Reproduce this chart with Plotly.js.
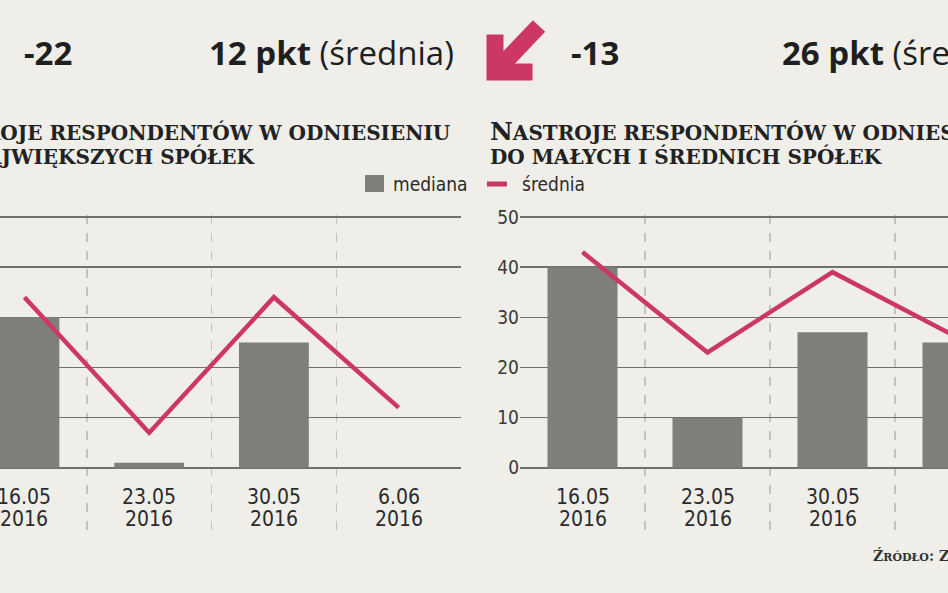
<!DOCTYPE html>
<html>
<head>
<meta charset="utf-8">
<script src="https://cdn.plot.ly/plotly-3.0.1.min.js"></script>
<style>
html,body{margin:0;padding:0;background:#efeee9;}
#chart{width:948px;height:593px;}
</style>
</head>
<body>
<div id="chart"></div>
<script>
// ---- data ----
var categories = ['16.05', '23.05', '30.05', '6.06'];
var yearLabel = '2016';
var bigMediana = [30, 1, 25, 0];        // największe spółki – mediana
var bigSrednia = [34, 7, 34, 12];       // największe spółki – średnia
var smallMediana = [40, 10, 27, 25];    // małe i średnie spółki – mediana
var smallSrednia = [43, 23, 39, 26];    // małe i średnie spółki – średnia
var yTicks = [0, 10, 20, 30, 40, 50];
var legendNames = ['mediana', 'średnia'];

// ---- styles ----
var W = 948, H = 593;
function px(x){ return x / W; }
function py(y){ return 1 - y / H; }
var BG = '#efeee9', BAR = '#7f7f79', LINE = '#cc3863', GRID = '#6f6f6b', DASH = '#c4c4bf', TXT = '#2b2b2b';
var condFont = '"Liberation Sans Narrow", "DejaVu Sans Condensed", sans-serif';
var slab = '"DejaVu Serif", serif';

var traces = [
  {type:'bar', x:categories, y:bigMediana, xaxis:'x', yaxis:'y', marker:{color:BAR}, hoverinfo:'skip'},
  {type:'scatter', mode:'lines', x:categories, y:bigSrednia, xaxis:'x', yaxis:'y', line:{color:LINE, width:4.5}, hoverinfo:'skip'},
  {type:'bar', x:categories, y:smallMediana, xaxis:'x2', yaxis:'y2', marker:{color:BAR}, hoverinfo:'skip'},
  {type:'scatter', mode:'lines', x:categories, y:smallSrednia, xaxis:'x2', yaxis:'y2', line:{color:LINE, width:4.5}, hoverinfo:'skip'}
];

// 0 at y=468px, 50 at y=217px  -> ~5.02 px per unit
var yDomain = [py(538), py(214.5)];
function xAx(domain, range){
  return {domain:domain, range:range, type:'category', showticklabels:false, ticks:'',
    showline:false, zeroline:false, showgrid:false, fixedrange:true,
    minor:{tickvals:[0.5,1.5,2.5], showgrid:true, gridcolor:DASH, gridwidth:1.5, griddash:'dash', ticks:''}};
}
function yAx(anchor, showLabels){
  return {domain:yDomain, range:[-14, 50.5], anchor:anchor, tickvals:yTicks, ticktext:yTicks.map(String),
    showgrid:true, gridcolor:GRID, gridwidth:1.6, zeroline:false, showline:false, ticks:'',
    showticklabels:showLabels, automargin:false, fixedrange:true,
    tickfont:{family:condFont, size:19, color:'#3a3a3a'}};
}

var annotations = [];
// date labels
['x', 'x2'].forEach(function(ax){
  categories.forEach(function(c, i){
    annotations.push({xref:ax, yref:'paper', x:i, y:py(497), text:c, showarrow:false,
      xanchor:'center', yanchor:'middle', font:{family:condFont, size:21, color:TXT}});
    annotations.push({xref:ax, yref:'paper', x:i, y:py(519), text:yearLabel, showarrow:false,
      xanchor:'center', yanchor:'middle', font:{family:condFont, size:21, color:TXT}});
  });
});
var topFont = {family:'"Open Sans", sans-serif', size:33, color:'#1f1f1f'};
annotations.push({xref:'paper', yref:'paper', x:px(22), y:py(53), text:'<b>-22</b>', showarrow:false, xanchor:'left', yanchor:'middle', font:topFont});
annotations.push({xref:'paper', yref:'paper', x:px(207), y:py(53), text:'<b>12 pkt</b> (średnia)', showarrow:false, xanchor:'left', yanchor:'middle', font:topFont});
annotations.push({xref:'paper', yref:'paper', x:px(569), y:py(53), text:'<b>-13</b>', showarrow:false, xanchor:'left', yanchor:'middle', font:topFont});
annotations.push({xref:'paper', yref:'paper', x:px(780), y:py(53), text:'<b>26 pkt</b> (średnia)', showarrow:false, xanchor:'left', yanchor:'middle', font:topFont});

// titles (small caps imitation)
var tFont = {family:slab, size:25, color:'#222'};
function sc(s){ return '<span style="font-size:20px">' + s + '</span>'; }
annotations.push({xref:'paper', yref:'paper', x:px(452), y:py(131), text:'<b>'+'N'+sc('ASTROJE RESPONDENTÓW W ODNIESIENIU')+'</b>', showarrow:false, xanchor:'right', yanchor:'middle', font:tFont});
annotations.push({xref:'paper', yref:'paper', x:px(257), y:py(156), text:'<b>'+sc('DO NAJWIĘKSZYCH SPÓŁEK')+'</b>', showarrow:false, xanchor:'right', yanchor:'middle', font:tFont});
annotations.push({xref:'paper', yref:'paper', x:px(488), y:py(131), text:'<b>'+'N'+sc('ASTROJE RESPONDENTÓW W ODNIESIENIU')+'</b>', showarrow:false, xanchor:'left', yanchor:'middle', font:tFont});
annotations.push({xref:'paper', yref:'paper', x:px(488), y:py(156), text:'<b>'+sc('DO MAŁYCH I ŚREDNICH SPÓŁEK')+'</b>', showarrow:false, xanchor:'left', yanchor:'middle', font:tFont});

// legend texts
annotations.push({xref:'paper', yref:'paper', x:px(391), y:py(184), text:legendNames[0], showarrow:false, xanchor:'left', yanchor:'middle', font:{family:condFont, size:19, color:TXT}});
annotations.push({xref:'paper', yref:'paper', x:px(520), y:py(184), text:legendNames[1], showarrow:false, xanchor:'left', yanchor:'middle', font:{family:condFont, size:19, color:TXT}});

// source
annotations.push({xref:'paper', yref:'paper', x:px(871), y:py(555), text:'<b>Ź<span style="font-size:11px">RÓDŁO</span>: Z</b>', showarrow:false, xanchor:'left', yanchor:'middle', font:{family:slab, size:14, color:'#333'}});

var shapes = [
  // legend glyphs
  {type:'rect', xref:'paper', yref:'paper', x0:px(365), x1:px(384), y0:py(192), y1:py(175), fillcolor:BAR, line:{width:0}},
  {type:'line', xref:'paper', yref:'paper', x0:px(487), x1:px(507), y0:py(184), y1:py(184), line:{color:LINE, width:5}},
  // arrow icon
  {type:'path', xref:'paper', yref:'paper',
   path:'M '+px(539)+' '+py(26)+' L '+px(500)+' '+py(67),
   line:{color:LINE, width:17}},
  {type:'path', xref:'paper', yref:'paper',
   path:'M '+px(489)+' '+py(37)+' L '+px(489)+' '+py(78)+' L '+px(530)+' '+py(78)+' L '+px(530)+' '+py(66)+' L '+px(501)+' '+py(66)+' L '+px(501)+' '+py(37)+' Z',
   fillcolor:LINE, line:{color:LINE, width:5}}
];

var layout = {
  width:W, height:H, margin:{l:0, r:0, t:0, b:0}, paper_bgcolor:BG, plot_bgcolor:'rgba(0,0,0,0)',
  showlegend:false, bargap:0.44,
  xaxis: xAx([0, px(461)], [-0.196, 3.5]),
  yaxis: yAx('x', false),
  xaxis2: xAx([px(520), 1], [-0.5, 2.924]),
  yaxis2: yAx('x2', true),
  annotations:annotations, shapes:shapes
};
Plotly.newPlot('chart', traces, layout, {displayModeBar:false, staticPlot:true});
</script>
</body>
</html>
